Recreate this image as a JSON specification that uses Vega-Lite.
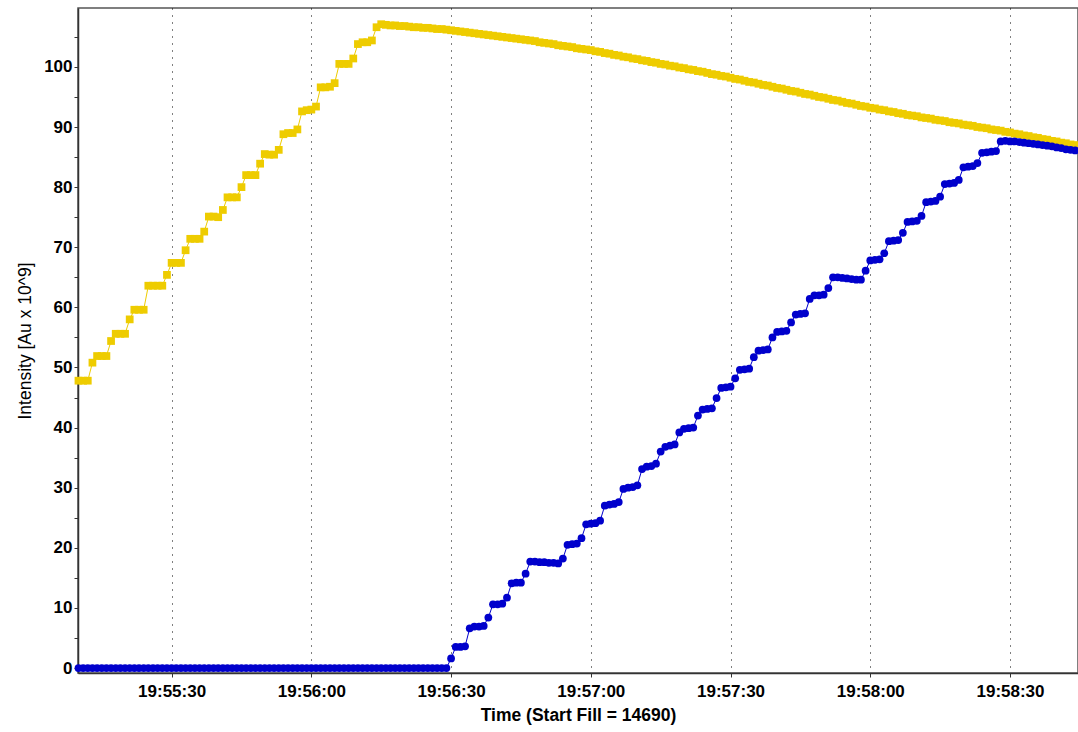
{
  "$schema": "https://vega.github.io/schema/vega-lite/v6.json",
  "width": 1000,
  "height": 665,
  "autosize": {"type": "none"},
  "padding": {"left": 78, "top": 8, "right": 0, "bottom": 59},
  "background": "white",
  "config": {
    "view": {"stroke": "#555555", "strokeWidth": 1.5},
    "font": "Liberation Sans"
  },
  "data": {
    "format": {"parse": {"t": "date:'%H:%M:%S'"}},
    "values": [
      {"t":"19:55:10","A":47.8,"B":0},{"t":"19:55:11","A":47.8,"B":0},{"t":"19:55:12","A":47.8,"B":0},{"t":"19:55:13","A":50.8,"B":0},
      {"t":"19:55:14","A":51.9,"B":0},{"t":"19:55:15","A":51.9,"B":0},{"t":"19:55:16","A":51.9,"B":0},{"t":"19:55:17","A":54.4,"B":0},
      {"t":"19:55:18","A":55.6,"B":0},{"t":"19:55:19","A":55.6,"B":0},{"t":"19:55:20","A":55.6,"B":0},{"t":"19:55:21","A":58.0,"B":0},
      {"t":"19:55:22","A":59.6,"B":0},{"t":"19:55:23","A":59.6,"B":0},{"t":"19:55:24","A":59.6,"B":0},{"t":"19:55:25","A":63.6,"B":0},
      {"t":"19:55:26","A":63.6,"B":0},{"t":"19:55:27","A":63.6,"B":0},{"t":"19:55:28","A":63.6,"B":0},{"t":"19:55:29","A":65.4,"B":0},
      {"t":"19:55:30","A":67.4,"B":0},{"t":"19:55:31","A":67.4,"B":0},{"t":"19:55:32","A":67.4,"B":0},{"t":"19:55:33","A":69.5,"B":0},
      {"t":"19:55:34","A":71.4,"B":0},{"t":"19:55:35","A":71.4,"B":0},{"t":"19:55:36","A":71.4,"B":0},{"t":"19:55:37","A":72.6,"B":0},
      {"t":"19:55:38","A":75.1,"B":0},{"t":"19:55:39","A":75.1,"B":0},{"t":"19:55:40","A":75.0,"B":0},{"t":"19:55:41","A":76.2,"B":0},
      {"t":"19:55:42","A":78.3,"B":0},{"t":"19:55:43","A":78.3,"B":0},{"t":"19:55:44","A":78.3,"B":0},{"t":"19:55:45","A":80.0,"B":0},
      {"t":"19:55:46","A":82.0,"B":0},{"t":"19:55:47","A":82.0,"B":0},{"t":"19:55:48","A":82.0,"B":0},{"t":"19:55:49","A":83.9,"B":0},
      {"t":"19:55:50","A":85.5,"B":0},{"t":"19:55:51","A":85.4,"B":0},{"t":"19:55:52","A":85.4,"B":0},{"t":"19:55:53","A":86.2,"B":0},
      {"t":"19:55:54","A":88.8,"B":0},{"t":"19:55:55","A":89.0,"B":0},{"t":"19:55:56","A":89.0,"B":0},{"t":"19:55:57","A":89.6,"B":0},
      {"t":"19:55:58","A":92.6,"B":0},{"t":"19:55:59","A":92.8,"B":0},{"t":"19:56:00","A":92.9,"B":0},{"t":"19:56:01","A":93.4,"B":0},
      {"t":"19:56:02","A":96.6,"B":0},{"t":"19:56:03","A":96.6,"B":0},{"t":"19:56:04","A":96.7,"B":0},{"t":"19:56:05","A":97.3,"B":0},
      {"t":"19:56:06","A":100.5,"B":0},{"t":"19:56:07","A":100.5,"B":0},{"t":"19:56:08","A":100.5,"B":0},{"t":"19:56:09","A":101.4,"B":0},
      {"t":"19:56:10","A":103.8,"B":0},{"t":"19:56:11","A":104.1,"B":0},{"t":"19:56:12","A":104.1,"B":0},{"t":"19:56:13","A":104.4,"B":0},
      {"t":"19:56:14","A":106.6,"B":0},{"t":"19:56:15","A":107.1,"B":0},{"t":"19:56:16","A":107.0,"B":0},{"t":"19:56:17","A":106.9,"B":0},
      {"t":"19:56:18","A":106.9,"B":0},{"t":"19:56:19","A":106.8,"B":0},{"t":"19:56:20","A":106.8,"B":0},{"t":"19:56:21","A":106.7,"B":0},
      {"t":"19:56:22","A":106.6,"B":0},{"t":"19:56:23","A":106.6,"B":0},{"t":"19:56:24","A":106.5,"B":0},{"t":"19:56:25","A":106.5,"B":0},
      {"t":"19:56:26","A":106.4,"B":0},{"t":"19:56:27","A":106.3,"B":0},{"t":"19:56:28","A":106.3,"B":0},{"t":"19:56:29","A":106.2,"B":0},
      {"t":"19:56:30","A":106.1,"B":1.6},{"t":"19:56:31","A":106.0,"B":3.5},{"t":"19:56:32","A":105.9,"B":3.5},{"t":"19:56:33","A":105.8,"B":3.6},
      {"t":"19:56:34","A":105.7,"B":6.6},{"t":"19:56:35","A":105.6,"B":6.9},{"t":"19:56:36","A":105.5,"B":6.9},{"t":"19:56:37","A":105.4,"B":7.0},
      {"t":"19:56:38","A":105.3,"B":8.4},{"t":"19:56:39","A":105.2,"B":10.6},{"t":"19:56:40","A":105.1,"B":10.6},{"t":"19:56:41","A":105.0,"B":10.7},
      {"t":"19:56:42","A":104.9,"B":11.7},{"t":"19:56:43","A":104.8,"B":14.1},{"t":"19:56:44","A":104.7,"B":14.2},{"t":"19:56:45","A":104.6,"B":14.2},
      {"t":"19:56:46","A":104.5,"B":15.7},{"t":"19:56:47","A":104.4,"B":17.7},{"t":"19:56:48","A":104.3,"B":17.7},{"t":"19:56:49","A":104.1,"B":17.6},
      {"t":"19:56:50","A":104.0,"B":17.6},{"t":"19:56:51","A":103.9,"B":17.5},{"t":"19:56:52","A":103.8,"B":17.5},{"t":"19:56:53","A":103.6,"B":17.4},
      {"t":"19:56:54","A":103.5,"B":18.2},{"t":"19:56:55","A":103.4,"B":20.5},{"t":"19:56:56","A":103.3,"B":20.6},{"t":"19:56:57","A":103.1,"B":20.7},
      {"t":"19:56:58","A":103.0,"B":21.6},{"t":"19:56:59","A":102.9,"B":23.9},{"t":"19:57:00","A":102.8,"B":24.0},{"t":"19:57:01","A":102.6,"B":24.1},
      {"t":"19:57:02","A":102.5,"B":24.5},{"t":"19:57:03","A":102.3,"B":27.0},{"t":"19:57:04","A":102.2,"B":27.2},{"t":"19:57:05","A":102.0,"B":27.3},
      {"t":"19:57:06","A":101.9,"B":27.6},{"t":"19:57:07","A":101.7,"B":29.8},{"t":"19:57:08","A":101.6,"B":30.0},{"t":"19:57:09","A":101.4,"B":30.1},
      {"t":"19:57:10","A":101.3,"B":30.4},{"t":"19:57:11","A":101.1,"B":33.1},{"t":"19:57:12","A":101.0,"B":33.5},{"t":"19:57:13","A":100.8,"B":33.6},
      {"t":"19:57:14","A":100.7,"B":34.0},{"t":"19:57:15","A":100.5,"B":36.0},{"t":"19:57:16","A":100.4,"B":36.8},{"t":"19:57:17","A":100.2,"B":37.0},
      {"t":"19:57:18","A":100.1,"B":37.2},{"t":"19:57:19","A":99.9,"B":39.2},{"t":"19:57:20","A":99.8,"B":39.8},{"t":"19:57:21","A":99.6,"B":39.9},
      {"t":"19:57:22","A":99.5,"B":40.0},{"t":"19:57:23","A":99.3,"B":42.0},{"t":"19:57:24","A":99.2,"B":43.0},{"t":"19:57:25","A":99.0,"B":43.1},
      {"t":"19:57:26","A":98.8,"B":43.2},{"t":"19:57:27","A":98.7,"B":44.9},{"t":"19:57:28","A":98.5,"B":46.6},{"t":"19:57:29","A":98.4,"B":46.7},
      {"t":"19:57:30","A":98.2,"B":46.8},{"t":"19:57:31","A":98.0,"B":48.2},{"t":"19:57:32","A":97.9,"B":49.6},{"t":"19:57:33","A":97.7,"B":49.7},
      {"t":"19:57:34","A":97.5,"B":49.8},{"t":"19:57:35","A":97.4,"B":51.7},{"t":"19:57:36","A":97.2,"B":52.8},{"t":"19:57:37","A":97.0,"B":52.9},
      {"t":"19:57:38","A":96.9,"B":53.0},{"t":"19:57:39","A":96.7,"B":55.0},{"t":"19:57:40","A":96.5,"B":55.9},{"t":"19:57:41","A":96.4,"B":56.0},
      {"t":"19:57:42","A":96.2,"B":56.1},{"t":"19:57:43","A":96.0,"B":57.5},{"t":"19:57:44","A":95.9,"B":58.8},{"t":"19:57:45","A":95.7,"B":58.9},
      {"t":"19:57:46","A":95.5,"B":59.0},{"t":"19:57:47","A":95.4,"B":61.4},{"t":"19:57:48","A":95.2,"B":62.0},{"t":"19:57:49","A":95.0,"B":62.0},
      {"t":"19:57:50","A":94.9,"B":62.1},{"t":"19:57:51","A":94.7,"B":63.2},{"t":"19:57:52","A":94.5,"B":65.0},{"t":"19:57:53","A":94.4,"B":65.0},
      {"t":"19:57:54","A":94.2,"B":64.9},{"t":"19:57:55","A":94.0,"B":64.8},{"t":"19:57:56","A":93.9,"B":64.7},{"t":"19:57:57","A":93.7,"B":64.6},
      {"t":"19:57:58","A":93.5,"B":64.6},{"t":"19:57:59","A":93.4,"B":66.1},{"t":"19:58:00","A":93.2,"B":67.8},{"t":"19:58:01","A":93.1,"B":67.9},
      {"t":"19:58:02","A":92.9,"B":68.0},{"t":"19:58:03","A":92.8,"B":69.0},{"t":"19:58:04","A":92.6,"B":71.0},{"t":"19:58:05","A":92.5,"B":71.1},
      {"t":"19:58:06","A":92.3,"B":71.2},{"t":"19:58:07","A":92.2,"B":72.4},{"t":"19:58:08","A":92.0,"B":74.2},{"t":"19:58:09","A":91.9,"B":74.3},
      {"t":"19:58:10","A":91.8,"B":74.4},{"t":"19:58:11","A":91.6,"B":75.2},{"t":"19:58:12","A":91.5,"B":77.5},{"t":"19:58:13","A":91.4,"B":77.6},
      {"t":"19:58:14","A":91.2,"B":77.7},{"t":"19:58:15","A":91.1,"B":78.4},{"t":"19:58:16","A":91.0,"B":80.5},{"t":"19:58:17","A":90.8,"B":80.6},
      {"t":"19:58:18","A":90.7,"B":80.7},{"t":"19:58:19","A":90.6,"B":81.2},{"t":"19:58:20","A":90.4,"B":83.3},{"t":"19:58:21","A":90.3,"B":83.4},
      {"t":"19:58:22","A":90.2,"B":83.5},{"t":"19:58:23","A":90.0,"B":84.0},{"t":"19:58:24","A":89.9,"B":85.7},{"t":"19:58:25","A":89.8,"B":85.8},
      {"t":"19:58:26","A":89.6,"B":85.9},{"t":"19:58:27","A":89.5,"B":86.0},{"t":"19:58:28","A":89.4,"B":87.6},{"t":"19:58:29","A":89.2,"B":87.7},
      {"t":"19:58:30","A":89.1,"B":87.6},{"t":"19:58:31","A":88.9,"B":87.6},{"t":"19:58:32","A":88.8,"B":87.5},{"t":"19:58:33","A":88.6,"B":87.4},
      {"t":"19:58:34","A":88.5,"B":87.3},{"t":"19:58:35","A":88.3,"B":87.2},{"t":"19:58:36","A":88.2,"B":87.1},{"t":"19:58:37","A":88.0,"B":87.0},
      {"t":"19:58:38","A":87.9,"B":86.9},{"t":"19:58:39","A":87.7,"B":86.8},{"t":"19:58:40","A":87.6,"B":86.6},{"t":"19:58:41","A":87.4,"B":86.5},
      {"t":"19:58:42","A":87.3,"B":86.3},{"t":"19:58:43","A":87.1,"B":86.2},{"t":"19:58:44","A":87.0,"B":86.1}
    ]
  },
  "transform": [{"fold": ["A", "B"], "as": ["series", "v"]}],
  "encoding": {
    "x": {
      "field": "t",
      "type": "temporal",
      "scale": {
        "nice": false,
        "domain": [
          {"year": 1900, "month": 1, "date": 1, "hours": 19, "minutes": 55, "seconds": 9, "milliseconds": 900},
          {"year": 1900, "month": 1, "date": 1, "hours": 19, "minutes": 58, "seconds": 44, "milliseconds": 600}
        ]
      },
      "axis": {
        "values": [
          {"year": 1900, "month": 1, "date": 1, "hours": 19, "minutes": 55, "seconds": 30},
          {"year": 1900, "month": 1, "date": 1, "hours": 19, "minutes": 56, "seconds": 0},
          {"year": 1900, "month": 1, "date": 1, "hours": 19, "minutes": 56, "seconds": 30},
          {"year": 1900, "month": 1, "date": 1, "hours": 19, "minutes": 57, "seconds": 0},
          {"year": 1900, "month": 1, "date": 1, "hours": 19, "minutes": 57, "seconds": 30},
          {"year": 1900, "month": 1, "date": 1, "hours": 19, "minutes": 58, "seconds": 0},
          {"year": 1900, "month": 1, "date": 1, "hours": 19, "minutes": 58, "seconds": 30}
        ],
        "format": "%H:%M:%S",
        "title": "Time (Start Fill = 14690)",
        "grid": true,
        "gridDash": [1, 6],
        "gridColor": "#000000",
        "gridOpacity": 1,
        "gridWidth": 1,
        "domainColor": "#333333",
        "domainWidth": 1.5,
        "tickColor": "#333333",
        "tickSize": 4,
        "labelPadding": 6,
        "labelFontSize": 17,
        "labelFontWeight": "bold",
        "labelColor": "#000000",
        "labelFlush": false,
        "labelOverlap": false,
        "titleFontSize": 17.5,
        "titleFontWeight": "bold",
        "titleColor": "#000000",
        "titlePadding": 7
      }
    },
    "y": {
      "field": "v",
      "type": "quantitative",
      "scale": {"domain": [-0.83, 109.8], "nice": false, "zero": false},
      "axis": {
        "values": [0, 5, 10, 15, 20, 25, 30, 35, 40, 45, 50, 55, 60, 65, 70, 75, 80, 85, 90, 95, 100, 105],
        "labelExpr": "datum.value % 10 == 0 ? datum.label : ''",
        "title": "Intensity [Au x 10^9]",
        "grid": false,
        "domainColor": "#333333",
        "domainWidth": 1.5,
        "tickColor": "#333333",
        "tickSize": 4,
        "labelPadding": 2,
        "labelFontSize": 17,
        "labelFontWeight": "bold",
        "labelColor": "#000000",
        "labelOverlap": false,
        "titleFontSize": 17.5,
        "titleFontWeight": "normal",
        "titleColor": "#000000",
        "titlePadding": 9
      }
    },
    "color": {
      "field": "series",
      "type": "nominal",
      "scale": {"domain": ["A", "B"], "range": ["#EECC00", "#0000CC"]},
      "legend": null
    }
  },
  "layer": [
    {
      "mark": {"type": "line", "strokeWidth": 1, "clip": false}
    },
    {
      "mark": {"type": "point", "filled": true, "opacity": 1, "size": 60},
      "encoding": {
        "shape": {
          "field": "series",
          "type": "nominal",
          "scale": {"domain": ["A", "B"], "range": ["square", "circle"]},
          "legend": null
        },
        "order": {"field": "series", "type": "nominal", "sort": "ascending"}
      }
    }
  ]
}
